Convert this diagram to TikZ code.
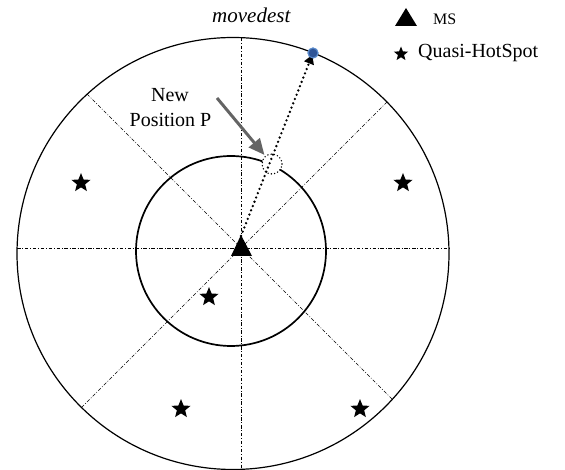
\documentclass[tikz,border=0pt]{standalone}
\usepackage{fontspec}
\setmainfont{Liberation Serif}
\usetikzlibrary{shapes.geometric,arrows.meta}
\definecolor{dotblue}{RGB}{47,85,151}
\definecolor{dotrim}{RGB}{91,140,205}
\definecolor{arrgray}{RGB}{100,100,100}
\begin{document}
\begin{tikzpicture}[x=1pt,y=-1pt,
  sector/.style={line width=0.6pt, dash pattern=on 3.5pt off 1.8pt on 0.8pt off 1.8pt},
  hotspot/.style={star, star points=5, star point ratio=2.3, fill=black, inner sep=0pt, minimum size=20pt},
  lbl/.style={font=\fontsize{20}{24}\selectfont, inner sep=0pt},
  msmark/.style={fill=black}
]
\useasboundingbox (0,0) rectangle (565,470);
% circles
\coordinate (oc) at (233,253.5);
\coordinate (ic) at (231,251);
\coordinate (c) at (241,248);
\draw[line width=1.2pt] (oc) circle[radius=216];
\draw[line width=1.7pt] (ic) circle[radius=95];
% sector lines
\coordinate (w) at (17,248);
\coordinate (e) at (449,248);
\coordinate (n) at (241,38);
\coordinate (s) at (241,469);
\coordinate (nw) at (87,94);
\coordinate (ne) at (387,102);
\coordinate (sw) at (81.5,407.5);
\coordinate (se) at (392,399);
\draw[sector] (w) -- (e);
\draw[sector] (n) -- (s);
\draw[sector] (nw) -- (c);
\draw[sector] (ne) -- (c);
\draw[sector] (sw) -- (c);
\draw[sector] (se) -- (c);
% text New Position P
\node[lbl, anchor=base] (new) at (170,102) {New};
\node[lbl, anchor=base, fill=white, inner sep=5pt] (pos) at (170.5,127) {Position P};
% hotspots
\node[hotspot] (h1) at (81,183) {};
\node[hotspot] (h2) at (403,183) {};
\node[hotspot] (h3) at (209,297) {};
\node[hotspot] (h4) at (181,409) {};
\node[hotspot] (h5) at (360,409) {};
% new position P
\node[circle, draw, fill=white, line width=1.6pt, line cap=round, dash pattern=on 0pt off 3.3pt, minimum size=20pt, inner sep=0pt] (P) at (272,164) {};
% destination
\node[circle, fill=dotblue, draw=dotrim, line width=1pt, minimum size=10pt, inner sep=0pt] (dest) at (313,53) {};
\coordinate (ms) at (241,236);
\draw[line width=2.6pt, line cap=round, dash pattern=on 0pt off 4.6pt, shorten >=2pt, -{Triangle[length=9pt,width=10pt,line cap=butt]}] (ms) -- (dest.center);
\node[circle, fill=dotblue, draw=dotrim, line width=1pt, minimum size=10pt, inner sep=0pt] at (dest) {};
% MS triangle
\fill[msmark] (231,256) -- (241,235) -- (252,256) -- cycle;
% gray arrow
\coordinate (astart) at (217,98);
\draw[arrgray, line width=3pt, -{Triangle[length=16pt,width=14pt]}, shorten >=1pt] (astart) -- (P);
% movedest
\node[lbl, anchor=base west, font=\fontsize{21}{24}\selectfont\itshape] (md) at (212,23) {movedest};
% legend
\fill[msmark] (395,26) -- (406,8) -- (417,26) -- cycle;
\node[lbl, anchor=base west, font=\fontsize{16}{20}\selectfont] (mslbl) at (433,25) {MS};
\node[hotspot, minimum size=15pt] (lstar) at (401,54) {};
\node[lbl, anchor=base west] (qlbl) at (418,58) {Quasi-HotSpot};
\end{tikzpicture}
\end{document}
